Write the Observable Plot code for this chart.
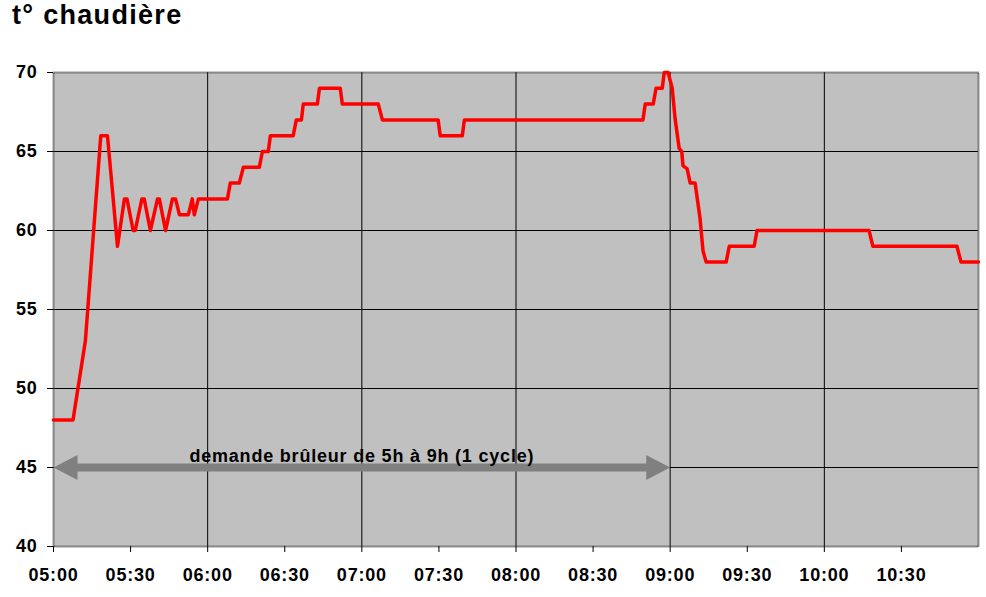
<!DOCTYPE html>
<html>
<head>
<meta charset="utf-8">
<script src="https://cdn.jsdelivr.net/npm/d3@7"></script>
<script src="https://cdn.jsdelivr.net/npm/@observablehq/plot@0.6"></script>
<style>
  html, body { margin: 0; padding: 0; background: #fff; }
  #title { height: 44px; line-height: 46px; padding-left: 12px; font: bold 27px "Liberation Sans", Arial, sans-serif; letter-spacing: 1.3px; color: #000; white-space: nowrap; overflow: visible; }
  #chart svg { display: block; }
</style>
</head>
<body>
<div id="title">t° chaudière</div>
<div id="chart"></div>
<script>
// Minutes after 05:00
const minutes = [0, 7.6, 12.4, 18.4, 21, 24.9, 27.6, 28.6, 31, 31.8, 34.4, 35.3, 37.7, 40.5, 41.2, 43.6, 46.3, 47.5, 49, 52.5, 54, 54.8, 56.4, 67.7, 68.8, 72.3, 73.9, 80.1, 81.3, 83.6, 84.4, 93.3, 94.5, 96.5, 97.2, 102.7, 103.5, 111.6, 112.4, 126.4, 128, 149.7, 150.5, 159.1, 159.9, 229.4, 230.3, 233.4, 234.5, 236.9, 237.7, 239.2, 240.8, 241.9, 243.5, 244.5, 245, 246.6, 247.8, 249.7, 251.6, 252.8, 254, 261.8, 263, 272.7, 273.8, 317.4, 318.9, 351.6, 353.2, 360];
// Boiler temperature (°C)
const temps = [48, 48, 53, 66, 66, 59, 62, 62, 60, 60, 62, 62, 60, 62, 62, 60, 62, 62, 61, 61, 62, 61, 62, 62, 63, 63, 64, 64, 65, 65, 66, 66, 67, 67, 68, 68, 69, 69, 68, 68, 67, 67, 66, 66, 67, 67, 68, 68, 69, 69, 70, 70, 69, 67.1, 65.2, 65, 64.1, 63.9, 63, 63, 60.8, 58.7, 58, 58, 59, 59, 60, 60, 59, 59, 58, 58];

const xTicks = [0, 30, 60, 90, 120, 150, 180, 210, 240, 270, 300, 330];
const xTickLabels = ["05:00", "05:30", "06:00", "06:30", "07:00", "07:30", "08:00", "08:30", "09:00", "09:30", "10:00", "10:30"];
const xGrid = [60, 120, 180, 240, 300];
const yTicks = [40, 45, 50, 55, 60, 65, 70];
const yGrid = [45, 50, 55, 60, 65];

const burnerStart = 0;    // 05:00
const burnerEnd = 240;    // 09:00
const burnerLevel = 45;
const burnerLabel = "demande brûleur de 5h à 9h (1 cycle)";
const burnerLabelX = 120;

const data = minutes.map((m, i) => ({t: m, v: temps[i]}));

const headL = 24, headH = 25;
const leftHead = {draw(ctx) { ctx.moveTo(0, 0); ctx.lineTo(headL, -headH / 2); ctx.lineTo(headL, headH / 2); ctx.closePath(); }};
const rightHead = {draw(ctx) { ctx.moveTo(0, 0); ctx.lineTo(-headL, -headH / 2); ctx.lineTo(-headL, headH / 2); ctx.closePath(); }};

const fontFamily = '"Liberation Sans", Arial, sans-serif';

const chart = Plot.plot({
  width: 986,
  height: 553,
  marginTop: 28,
  marginBottom: 51,
  marginLeft: 53,
  marginRight: 8,
  style: {fontFamily, fontSize: "18px", fontWeight: "bold", letterSpacing: "0.8px", color: "#000", background: "#fff"},
  x: {domain: [0, 360]},
  y: {domain: [40, 70]},
  marks: [
    Plot.frame({fill: "#c0c0c0", stroke: "none"}),
    Plot.ruleY(yGrid, {stroke: "#000", strokeWidth: 1}),
    Plot.ruleX(xGrid, {stroke: "#000", strokeWidth: 1}),
    Plot.frame({stroke: "#333", strokeWidth: 2, strokeDasharray: "1 1"}),
    Plot.axisY({ticks: yTicks, tickSize: 6, tickPadding: 10, label: null, stroke: "#000"}),
    Plot.axisX({ticks: xTicks, tickSize: 6, tickPadding: 16, label: null, stroke: "#000",
      tickFormat: (d) => xTickLabels[xTicks.indexOf(d)]}),
    Plot.ruleY([burnerLevel], {x1: burnerStart, x2: burnerEnd, stroke: "#808080", strokeWidth: 8, insetLeft: 14, insetRight: 14}),
    Plot.dot([burnerStart], {x: (d) => d, y: () => burnerLevel, symbol: leftHead, fill: "#808080", stroke: "none", r: 10}),
    Plot.dot([burnerEnd], {x: (d) => d, y: () => burnerLevel, symbol: rightHead, fill: "#808080", stroke: "none", r: 10}),
    Plot.text([burnerLabel], {x: () => burnerLabelX, y: () => burnerLevel, text: (d) => d, dy: -11, fill: "#000", fontSize: 18, fontWeight: "bold"}),
    Plot.line(data, {x: "t", y: "v", stroke: "#ff0000", strokeWidth: 3.5, strokeLinejoin: "round"})
  ]
});
document.getElementById("chart").appendChild(chart);
</script>
</body>
</html>
